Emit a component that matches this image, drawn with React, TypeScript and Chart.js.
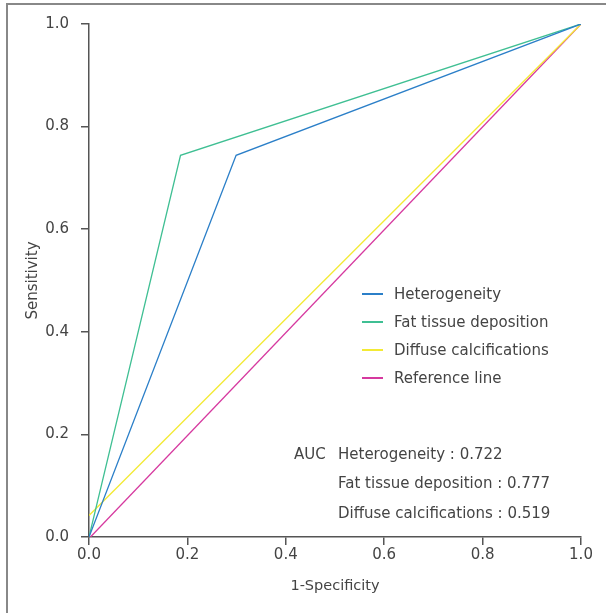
import React, { useEffect, useRef } from "react";
import { Chart, registerables } from "chart.js";

Chart.register(...registerables);

const xTicks = [0, 0.2, 0.4, 0.6, 0.8, 1.0];
const yTicks = [0, 0.2, 0.4, 0.6, 0.8, 1.0];

const seriesNames = ["Heterogeneity", "Fat tissue deposition", "Diffuse calcifications", "Reference line"];
const seriesColors = ["#2b7fc8", "#3fbf93", "#f3ea35", "#d6399f"];

const heteroX = [0, 0.299, 1];
const heteroY = [0, 0.744, 1];
const fatX = [0, 0.186, 1];
const fatY = [0, 0.744, 1];
const diffuseX = [0, 1];
const diffuseY = [0.042, 1];
const refX = [0.003, 1];
const refY = [0, 1];

const aucLabels = ["Heterogeneity", "Fat tissue deposition", "Diffuse calcifications"];
const aucValues = ["0.722", "0.777", "0.519"];

const FONT = "'DejaVu Sans', sans-serif";
const TEXT = "#444";

function pts(xs: number[], ys: number[]) {
  return xs.map((x, i) => ({ x, y: ys[i] }));
}

export default function App() {
  const ref = useRef<HTMLCanvasElement | null>(null);
  useEffect(() => {
    if (!ref.current) return;
    const allData = [pts(heteroX, heteroY), pts(fatX, fatY), pts(diffuseX, diffuseY), pts(refX, refY)];
    const chart = new Chart(ref.current, {
      type: "line",
      data: {
        datasets: allData.map((d, i) => ({
          label: seriesNames[i],
          data: d,
          borderColor: seriesColors[i],
          backgroundColor: seriesColors[i],
          borderWidth: 1.3,
          pointRadius: 0,
          tension: 0,
          fill: false,
        })),
      },
      options: {
        animation: false,
        responsive: false,
        layout: { padding: { left: 0, right: 25, top: 24, bottom: 0 } },
        plugins: { legend: { display: false }, tooltip: { enabled: false } },
        scales: {
          x: {
            type: "linear",
            min: 0,
            max: 1,
            afterFit: (s: any) => { s.height = 76; },
            afterBuildTicks: (s: any) => { s.ticks = xTicks.map((v) => ({ value: v })); },
            border: { color: "#555", width: 1.5 },
            grid: { drawOnChartArea: false, tickLength: 8, color: "#555", lineWidth: 1.5 },
            ticks: { color: TEXT, font: { family: FONT, size: 15 }, padding: 1, callback: (v: any) => Number(v).toFixed(1) },
            title: { display: true, text: "1-Specificity", color: TEXT, font: { family: FONT, size: 14.5 }, padding: { top: 0, bottom: 18 } },
          },
          y: {
            type: "linear",
            min: 0,
            max: 1,
            afterFit: (s: any) => { s.width = 89; },
            afterBuildTicks: (s: any) => { s.ticks = yTicks.map((v) => ({ value: v })); },
            border: { color: "#555", width: 1.5 },
            grid: { drawOnChartArea: false, tickLength: 8, color: "#555", lineWidth: 1.5 },
            ticks: { color: TEXT, font: { family: FONT, size: 15 }, padding: 12, callback: (v: any) => Number(v).toFixed(1) },
            title: { display: true, text: "Sensitivity", color: TEXT, font: { family: FONT, size: 15 }, padding: { top: 24, bottom: 0 } },
          },
        },
      } as any,
    });
    return () => chart.destroy();
  }, []);

  return (
    <div style={{ position: "fixed", left: 0, top: 0, width: 606, height: 613, background: "#fff", overflow: "hidden", fontFamily: FONT }}>
      <div style={{ position: "absolute", left: 6, top: 3, width: 700, height: 700, borderLeft: "2px solid #888", borderTop: "2px solid #888" }} />
      <canvas ref={ref} width={606} height={613} style={{ position: "absolute", left: 0, top: 0 }} />
      <div style={{ position: "absolute", left: 362, top: 280, color: TEXT, fontSize: 15 }}>
        {seriesNames.map((n, i) => (
          <div key={n} style={{ height: 28, display: "flex", alignItems: "center" }}>
            <span style={{ display: "inline-block", width: 21, height: 2, background: seriesColors[i], marginRight: 11 }} />
            <span>{n}</span>
          </div>
        ))}
      </div>
      <div style={{ position: "absolute", left: 294, top: 439, color: TEXT, fontSize: 15 }}>
        {aucLabels.map((n, i) => (
          <div key={n} style={{ height: 29.5, display: "flex", alignItems: "center" }}>
            <span style={{ display: "inline-block", width: 44 }}>{i === 0 ? "AUC" : ""}</span>
            <span>{n + " : " + aucValues[i]}</span>
          </div>
        ))}
      </div>
    </div>
  );
}
